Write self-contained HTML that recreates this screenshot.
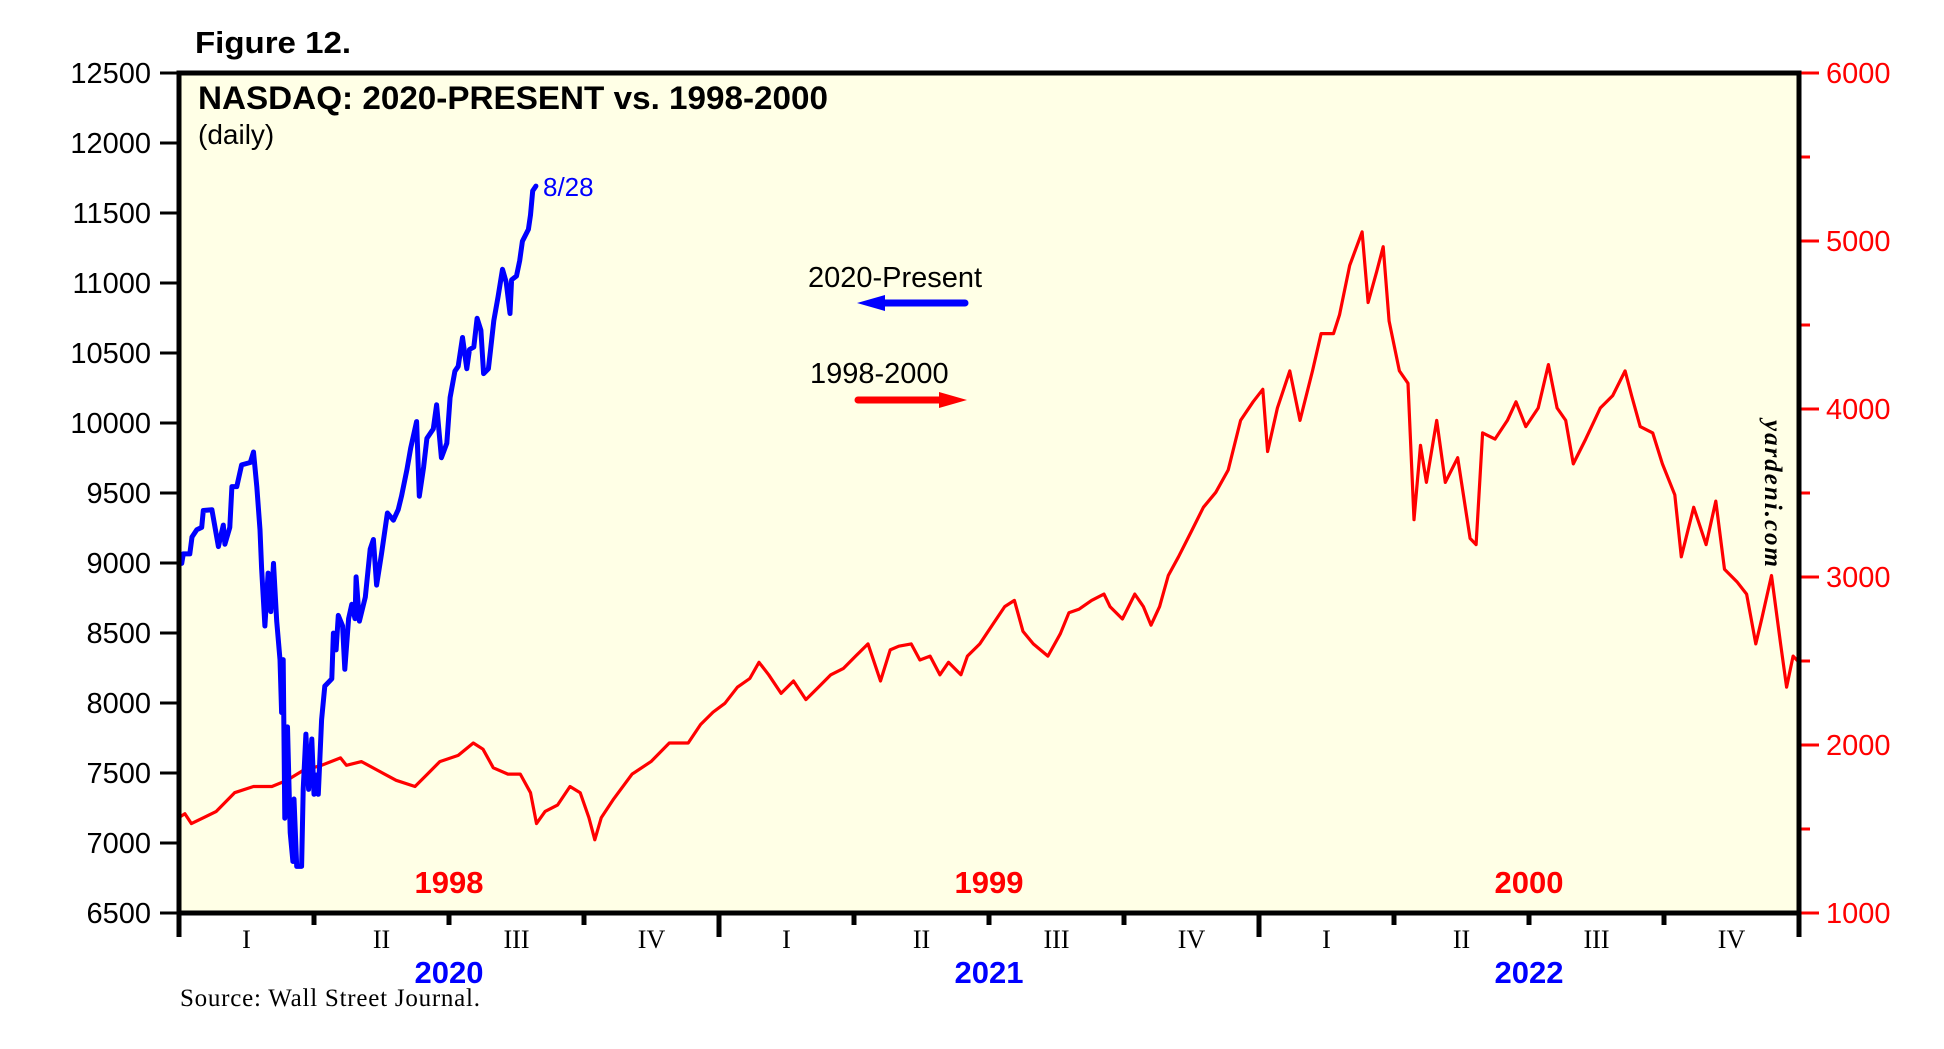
<!DOCTYPE html>
<html><head><meta charset="utf-8"><style>
html,body{margin:0;padding:0;background:#fff;}
svg{display:block;}
</style></head><body>
<svg id="chart" width="1944" height="1049" viewBox="0 0 1944 1049" xmlns="http://www.w3.org/2000/svg" font-family="Liberation Sans, sans-serif">
<rect x="179" y="73" width="1620" height="840" fill="#FFFFE6"/>
<g id="axes"></g>
<g id="series"></g>
<rect x="179" y="73" width="1620" height="840" fill="none" stroke="#000" stroke-width="5"/>
<text x="195" y="53" font-size="31" font-weight="bold" textLength="156" lengthAdjust="spacingAndGlyphs">Figure 12.</text>
<text x="198" y="109" font-size="32" font-weight="bold" textLength="630" lengthAdjust="spacingAndGlyphs">NASDAQ: 2020-PRESENT vs. 1998-2000</text>
<text x="198" y="144" font-size="28">(daily)</text>
<text x="543" y="196" font-size="26" fill="#0000ff">8/28</text>
<text x="808" y="287" font-size="29">2020-Present</text>
<g>
<line x1="880" y1="303" x2="965" y2="303" stroke="#0000ff" stroke-width="7" stroke-linecap="round"/>
<polygon points="857,303 885,295 885,311" fill="#0000ff"/>
</g>
<text x="810" y="383" font-size="29">1998-2000</text>
<g>
<line x1="858" y1="400" x2="945" y2="400" stroke="#ff0000" stroke-width="7" stroke-linecap="round"/>
<polygon points="967,400 939,392 939,408" fill="#ff0000"/>
</g>
<text transform="translate(1765,420) rotate(90)" font-family="Liberation Serif, serif" font-style="italic" font-weight="bold" font-size="25" textLength="147">yardeni.com</text>
<text x="180" y="1006" font-family="Liberation Serif, serif" font-size="25" textLength="300">Source: Wall Street Journal.</text>
</svg>
<script>
const leftTicks = [6500,7000,7500,8000,8500,9000,9500,10000,10500,11000,11500,12000,12500];
const rightTicks = [1000,2000,3000,4000,5000,6000];
const rightMinor = [1500,2500,3500,4500,5500];
const quarterLabels = ['I','II','III','IV'];
const redYears = ['1998','1999','2000'];
const blueYears = ['2020','2021','2022'];

const blueT = [0.005,0.008,0.020,0.024,0.033,0.042,0.045,0.061,0.073,0.082,0.085,0.094,0.098,0.107,0.116,0.132,0.138,0.144,0.150,0.153,0.159,0.165,0.170,0.175,0.181,0.187,0.190,0.193,0.196,0.201,0.206,0.211,0.213,0.218,0.227,0.230,0.235,0.240,0.246,0.250,0.255,0.258,0.264,0.270,0.283,0.286,0.291,0.295,0.303,0.307,0.314,0.320,0.326,0.328,0.334,0.345,0.354,0.360,0.366,0.375,0.386,0.397,0.406,0.412,0.422,0.429,0.440,0.445,0.453,0.459,0.471,0.477,0.486,0.496,0.502,0.511,0.517,0.525,0.533,0.538,0.546,0.552,0.559,0.564,0.573,0.577,0.583,0.591,0.599,0.606,0.613,0.616,0.625,0.631,0.636,0.647,0.651,0.655,0.661];
const blueV = [8997,9065,9065,9186,9237,9254,9375,9381,9117,9271,9134,9254,9546,9546,9701,9718,9793,9546,9237,8962,8550,8928,8653,8997,8585,8310,7932,8310,7177,7829,7074,6868,7314,6833,6833,7383,7778,7383,7743,7348,7486,7348,7881,8121,8173,8499,8379,8626,8550,8241,8602,8705,8602,8901,8585,8756,9100,9168,8842,9065,9357,9306,9381,9477,9666,9821,10010,9477,9684,9890,9958,10130,9752,9855,10182,10370,10405,10611,10388,10525,10542,10748,10662,10353,10388,10525,10731,10903,11098,11006,10782,11023,11050,11160,11298,11383,11486,11658,11692];

const redT = [0,0.011,0.023,0.046,0.069,0.103,0.138,0.172,0.2,0.23,0.264,0.299,0.31,0.338,0.368,0.402,0.437,0.46,0.483,0.517,0.545,0.563,0.582,0.609,0.632,0.651,0.662,0.678,0.701,0.724,0.743,0.759,0.770,0.782,0.805,0.839,0.874,0.908,0.943,0.966,0.989,1.011,1.034,1.057,1.074,1.092,1.115,1.138,1.161,1.184,1.207,1.230,1.253,1.276,1.299,1.317,1.333,1.356,1.372,1.391,1.409,1.425,1.448,1.460,1.483,1.506,1.529,1.547,1.563,1.582,1.609,1.632,1.648,1.667,1.690,1.713,1.724,1.747,1.770,1.786,1.800,1.816,1.832,1.851,1.874,1.897,1.920,1.943,1.966,1.989,2.007,2.016,2.034,2.057,2.076,2.099,2.115,2.138,2.149,2.168,2.191,2.202,2.218,2.230,2.241,2.260,2.276,2.287,2.299,2.310,2.329,2.345,2.368,2.391,2.402,2.414,2.437,2.460,2.476,2.494,2.517,2.536,2.552,2.568,2.582,2.605,2.632,2.655,2.678,2.690,2.706,2.729,2.747,2.770,2.782,2.805,2.828,2.846,2.862,2.885,2.903,2.920,2.931,2.949,2.966,2.977,2.989,3.0];
const redV = [1568,1591,1532,1568,1605,1716,1753,1753,1790,1849,1879,1923,1879,1901,1849,1790,1753,1827,1901,1938,2012,1975,1864,1827,1827,1716,1532,1605,1642,1753,1716,1568,1436,1568,1679,1827,1901,2012,2012,2122,2196,2248,2344,2396,2492,2418,2307,2381,2270,2344,2418,2455,2529,2602,2381,2566,2588,2602,2506,2529,2418,2492,2418,2529,2602,2713,2824,2861,2676,2602,2529,2662,2787,2809,2861,2898,2824,2750,2898,2824,2713,2824,3009,3120,3267,3415,3504,3637,3932,4043,4117,3747,4006,4227,3932,4227,4449,4449,4560,4855,5054,4634,4818,4966,4523,4227,4153,3341,3784,3563,3932,3563,3710,3230,3193,3858,3821,3932,4043,3895,4006,4264,4006,3932,3673,3821,4006,4080,4227,4080,3895,3858,3673,3489,3120,3415,3193,3452,3046,2972,2898,2602,2750,3009,2602,2344,2529,2492];

const NS='http://www.w3.org/2000/svg';
const X0=179, X1=1799, Y0=73, Y1=913;
const xScale = t => X0 + t/3*(X1-X0);
const yLeft = v => Y1 - (v-6500)/(12500-6500)*(Y1-Y0);
const yRight = v => Y1 - (v-1000)/(6000-1000)*(Y1-Y0);
function mk(tag, attrs, parent){const e=document.createElementNS(NS,tag);for(const k in attrs)e.setAttribute(k,attrs[k]);parent.appendChild(e);return e;}
const axes=document.getElementById('axes');
const series=document.getElementById('series');

leftTicks.forEach(v=>{
  const y=yLeft(v);
  const t=mk('line',{x1:160,x2:179,y1:y,y2:y,stroke:'#000','stroke-width':3},axes);
  
  
  const l=mk('text',{x:151,y:y+10,'font-size':29,'text-anchor':'end',fill:'#000'},axes);
  l.textContent=v;
  
  
});
rightTicks.forEach(v=>{
  const y=yRight(v);
  const t=mk('line',{x1:1799,x2:1819,y1:y,y2:y,stroke:'#ff0000','stroke-width':3},axes);
  
  
  const l=mk('text',{x:1826,y:y+10,'font-size':29,fill:'#ff0000'},axes);
  l.textContent=v;
  
  
});
rightMinor.forEach(v=>{
  const y=yRight(v);
  const t=mk('line',{x1:1799,x2:1810,y1:y,y2:y,stroke:'#ff0000','stroke-width':3},axes);
  
  
});
for(let yr=0; yr<3; yr++){
  for(let q=0;q<4;q++){
    const x=xScale(yr+q/4);
    const long = q===0;
    const t=mk('line',{x1:x,x2:x,y1:Y1,y2:long?937:925,stroke:'#000','stroke-width':5},axes);
    
    
    const l=mk('text',{x:xScale(yr+q/4+0.125),y:948,'font-size':26,'text-anchor':'middle','font-family':'Liberation Serif, serif',fill:'#000'},axes);
    l.textContent=quarterLabels[q];
    
    
  }
  const r=mk('text',{x:xScale(yr+0.5),y:893,'font-size':31,'font-weight':'bold','text-anchor':'middle',fill:'#ff0000'},axes);
  r.textContent=redYears[yr];
  
  
  const b=mk('text',{x:xScale(yr+0.5),y:983,'font-size':31,'font-weight':'bold','text-anchor':'middle',fill:'#0000ff'},axes);
  b.textContent=blueYears[yr];
  
  
}
const endTick=mk('line',{x1:X1,x2:X1,y1:Y1,y2:937,stroke:'#000','stroke-width':5},axes);



const redPts = redT.map((t,i)=>xScale(t).toFixed(1)+','+yRight(redV[i]).toFixed(1)).join(' ');
const red=mk('polyline',{points:redPts,fill:'none',stroke:'#ff0000','stroke-width':3.2,'stroke-linejoin':'round'},series);


const bluePts = blueT.map((t,i)=>xScale(t).toFixed(1)+','+yLeft(blueV[i]).toFixed(1)).join(' ');
const blue=mk('polyline',{points:bluePts,fill:'none',stroke:'#0000ff','stroke-width':5,'stroke-linejoin':'round','stroke-linecap':'round'},series);


</script>
</body></html>
